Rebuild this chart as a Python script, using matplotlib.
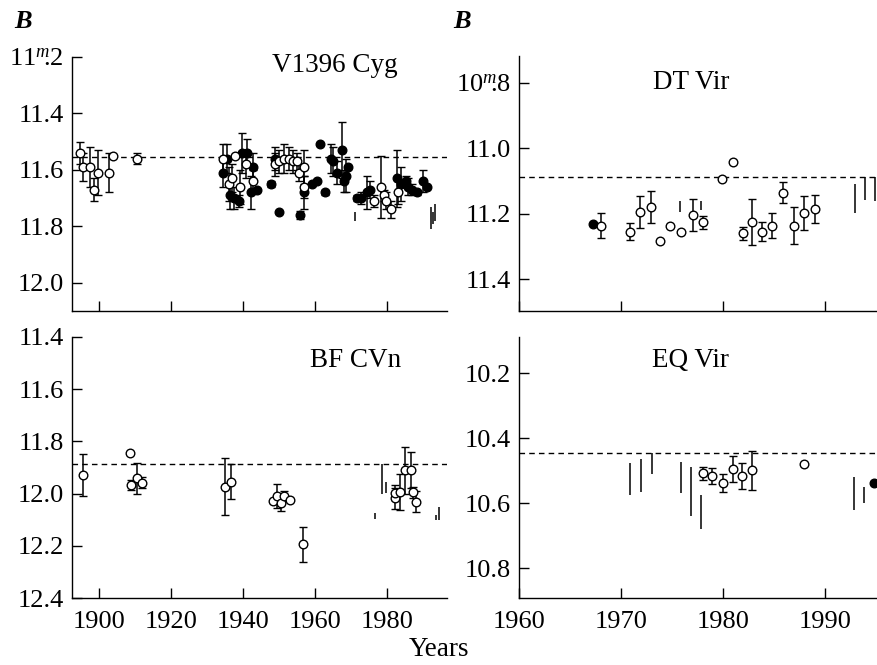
import numpy as np
import matplotlib
matplotlib.use("Agg")
import matplotlib.pyplot as plt

plt.rcParams["font.family"] = ["Liberation Serif", "DejaVu Serif"]
plt.rcParams["mathtext.fontset"] = "custom"
plt.rcParams["mathtext.rm"] = "Liberation Serif"
plt.rcParams["mathtext.it"] = "Liberation Serif:italic"

# ---- V1396 Cyg ----
cyg_open_year = [1894.7, 1895.5, 1897.5, 1898.7, 1899.7, 1902.9, 1903.8, 1910.6,
                 1934.4, 1936.0, 1936.9, 1937.7, 1939.2, 1940.9, 1942.7,
                 1948.9, 1949.9, 1951.3, 1952.9, 1953.9, 1954.9, 1955.5, 1957.0, 1957.1,
                 1976.5, 1978.3, 1979.3, 1979.8, 1981.1, 1983.1]
cyg_open_mag = [11.54, 11.59, 11.59, 11.67, 11.61, 11.61, 11.55, 11.56,
                11.56, 11.65, 11.63, 11.55, 11.66, 11.58, 11.64,
                11.58, 11.57, 11.56, 11.56, 11.57, 11.57, 11.61, 11.59, 11.66,
                11.71, 11.66, 11.69, 11.71, 11.74, 11.68]
cyg_open_err = [0.04, 0.05, 0.07, 0.04, 0.08, 0.07, 0.0, 0.02,
                0.05, 0.06, 0.05, 0.0, 0.06, 0.05, 0.04,
                0.04, 0.04, 0.05, 0.04, 0.04, 0.03, 0.03, 0.06, 0.04,
                0.02, 0.11, 0.02, 0.03, 0.03, 0.04]
cyg_fill_year = [1934.5, 1935.6, 1936.3, 1937.5, 1938.8, 1939.6, 1941.1, 1942.8, 1942.1, 1944.0,
                 1947.9, 1948.9, 1950.1, 1955.9, 1957.1, 1959.1, 1960.5, 1961.3, 1962.9,
                 1964.6, 1965.1, 1966.1, 1967.4, 1968.0, 1968.6, 1969.2,
                 1971.7, 1972.8, 1974.6, 1975.4, 1982.8, 1983.9, 1985.3, 1985.9, 1986.9,
                 1988.5, 1990.0, 1991.1]
cyg_fill_mag = [11.61, 11.56, 11.69, 11.70, 11.71, 11.54, 11.54, 11.59, 11.68, 11.67,
                11.65, 11.56, 11.75, 11.76, 11.68, 11.65, 11.64, 11.51, 11.68,
                11.56, 11.57, 11.61, 11.53, 11.64, 11.62, 11.59,
                11.70, 11.70, 11.68, 11.67, 11.63, 11.65, 11.64, 11.66, 11.67,
                11.68, 11.64, 11.66]
cyg_fill_err = [0.05, 0.05, 0.05, 0.04, 0.02, 0.07, 0.05, 0.05, 0.06, 0.0,
                0.01, 0.04, 0.0, 0.015, 0.06, 0.0, 0.0, 0.0, 0.01,
                0.05, 0.05, 0.04, 0.10, 0.04, 0.06, 0.0,
                0.01, 0.02, 0.06, 0.03, 0.10, 0.06, 0.02, 0.03, 0.02,
                0.01, 0.04, 0.0]
cyg_bar_year = [1971.0, 1992.2, 1992.7, 1993.3]
cyg_bar_lo = [11.75, 11.73, 11.75, 11.72]
cyg_bar_hi = [11.78, 11.81, 11.79, 11.78]
cyg_mean = 11.553

# ---- BF CVn ----
cvn_year = [1895.6, 1908.5, 1909.0, 1910.5, 1912.0, 1934.9, 1936.7,
            1948.3, 1949.4, 1950.7, 1951.5, 1953.2, 1956.7,
            1982.2, 1982.3, 1983.7, 1985.1, 1986.7, 1987.3, 1988.2]
cvn_mag = [11.93, 11.846, 11.967, 11.941, 11.958, 11.973, 11.954,
           12.027, 12.009, 12.035, 12.009, 12.024, 12.194,
           12.018, 11.996, 11.993, 11.91, 11.91, 11.995, 12.031]
cvn_err = [0.08, 0.0, 0.02, 0.06, 0.02, 0.11, 0.067,
           0.0, 0.045, 0.03, 0.02, 0.0, 0.067,
           0.04, 0.03, 0.07, 0.09, 0.07, 0.02, 0.04]
cvn_bar_year = [1976.7, 1978.6, 1979.7, 1993.7, 1994.4]
cvn_bar_lo = [12.073, 11.887, 11.954, 12.08, 12.05]
cvn_bar_hi = [12.098, 12.002, 11.999, 12.10, 12.10]
cvn_mean = 11.887

# ---- DT Vir ----
dt_open_year = [1968.0, 1970.9, 1971.9, 1972.9, 1973.8, 1974.85, 1975.9, 1977.06, 1978.0,
                1979.9, 1980.95, 1981.94, 1982.87, 1983.8, 1984.8, 1985.9, 1987.0,
                1987.9, 1989.0]
dt_open_mag = [11.236, 11.254, 11.194, 11.178, 11.283, 11.236, 11.256, 11.204, 11.226,
               11.093, 11.042, 11.259, 11.224, 11.254, 11.236, 11.135, 11.236,
               11.198, 11.186]
dt_open_err = [0.039, 0.025, 0.05, 0.049, 0.0, 0.0, 0.0, 0.048, 0.02,
               0.0, 0.0, 0.02, 0.07, 0.03, 0.039, 0.031, 0.057,
               0.052, 0.043]
dt_fill_year = [1967.26]
dt_fill_mag = [11.231]
dt_bar_year = [1975.8, 1977.85, 1992.9, 1993.9, 1994.9]
dt_bar_lo = [11.16, 11.16, 11.11, 11.086, 11.086]
dt_bar_hi = [11.193, 11.188, 11.198, 11.157, 11.16]
dt_mean = 11.086

# ---- EQ Vir ----
eq_open_year = [1978.0, 1978.9, 1980.0, 1981.0, 1981.9, 1982.8, 1987.9]
eq_open_mag = [10.508, 10.515, 10.538, 10.494, 10.515, 10.498, 10.48]
eq_open_err = [0.02, 0.025, 0.027, 0.04, 0.04, 0.06, 0.0]
eq_fill_year = [1994.8]
eq_fill_mag = [10.537]
eq_bar_year = [1970.9, 1971.95, 1973.0, 1975.9, 1976.9, 1977.8, 1992.8, 1993.8]
eq_bar_lo = [10.477, 10.465, 10.446, 10.472, 10.487, 10.574, 10.518, 10.549]
eq_bar_hi = [10.574, 10.564, 10.511, 10.567, 10.638, 10.679, 10.621, 10.60]
eq_mean = 10.446

FS = 19
TS = 19.5
MS = 6.2
EW = 1.0
LW = 1.1


def style_axes(ax):
    for s in ["top", "right"]:
        ax.spines[s].set_visible(False)
    for s in ["left", "bottom"]:
        ax.spines[s].set_linewidth(1.0)
    ax.tick_params(direction="in", length=7, width=1.0, labelsize=FS, pad=6)


def draw_open(ax, x, y, e):
    ax.errorbar(x, y, yerr=e, fmt="o", ms=MS, mfc="white", mec="black", mew=EW,
                ecolor="black", elinewidth=LW, capsize=3.0, capthick=LW, zorder=3)


def draw_fill(ax, x, y, e=None):
    ax.errorbar(x, y, yerr=e, fmt="o", ms=MS, mfc="black", mec="black", mew=EW,
                ecolor="black", elinewidth=LW, capsize=3.0, capthick=LW, zorder=3)


fig = plt.figure(figsize=(8.77, 6.65), dpi=100)

# top-left: V1396 Cyg
ax1 = fig.add_axes([0.0821, 0.5323, 0.4276, 0.3820])
style_axes(ax1)
ax1.axhline(cyg_mean, color="black", lw=1.0, ls=(0, (4, 3)), zorder=1)
draw_fill(ax1, cyg_fill_year, cyg_fill_mag, cyg_fill_err)
draw_open(ax1, cyg_open_year, cyg_open_mag, cyg_open_err)
ax1.vlines(cyg_bar_year, cyg_bar_lo, cyg_bar_hi, color="black", lw=LW)
ax1.set_xlim(1892.5, 1996.7)
ax1.set_ylim(12.1, 11.2)
ax1.set_xticks([1900, 1920, 1940, 1960, 1980])
ax1.set_xticklabels([])
ax1.set_yticks([11.2, 11.4, 11.6, 11.8, 12.0])
ax1.set_yticklabels([r"11$^{m}\!\!$.2", "11.4", "11.6", "11.8", "12.0"])
ax1.text(0.70, 0.965, "V1396 Cyg", transform=ax1.transAxes, ha="center", va="center",
         fontsize=TS)

# bottom-left: BF CVn
ax2 = fig.add_axes([0.0821, 0.1003, 0.4276, 0.3934])
style_axes(ax2)
ax2.axhline(cvn_mean, color="black", lw=1.0, ls=(0, (4, 3)), zorder=1)
draw_open(ax2, cvn_year, cvn_mag, cvn_err)
ax2.vlines(cvn_bar_year, cvn_bar_lo, cvn_bar_hi, color="black", lw=LW)
ax2.set_xlim(1892.5, 1996.7)
ax2.set_ylim(12.4, 11.4)
ax2.set_xticks([1900, 1920, 1940, 1960, 1980])
ax2.set_yticks([11.4, 11.6, 11.8, 12.0, 12.2, 12.4])
ax2.set_yticklabels(["11.4", "11.6", "11.8", "12.0", "12.2", "12.4"])
ax2.tick_params(axis="x", pad=9)
ax2.text(0.755, 0.91, "BF CVn", transform=ax2.transAxes, ha="center", va="center",
         fontsize=TS)

# top-right: DT Vir
ax3 = fig.add_axes([0.5918, 0.5323, 0.4082, 0.3835])
style_axes(ax3)
ax3.axhline(dt_mean, color="black", lw=1.0, ls=(0, (4, 3)), zorder=1)
draw_fill(ax3, dt_fill_year, dt_fill_mag)
draw_open(ax3, dt_open_year, dt_open_mag, dt_open_err)
ax3.vlines(dt_bar_year, dt_bar_lo, dt_bar_hi, color="black", lw=LW)
ax3.set_xlim(1960, 1995.1)
ax3.set_ylim(11.497, 10.7175)
ax3.set_xticks([1960, 1970, 1980, 1990])
ax3.set_xticklabels([])
ax3.set_yticks([10.8, 11.0, 11.2, 11.4])
ax3.set_yticklabels([r"10$^{m}\!\!$.8", "11.0", "11.2", "11.4"])
ax3.text(0.48, 0.895, "DT Vir", transform=ax3.transAxes, ha="center", va="center",
         fontsize=TS)

# bottom-right: EQ Vir
ax4 = fig.add_axes([0.5918, 0.1003, 0.4082, 0.3934])
style_axes(ax4)
ax4.axhline(eq_mean, color="black", lw=1.0, ls=(0, (4, 3)), zorder=1)
draw_fill(ax4, eq_fill_year, eq_fill_mag)
draw_open(ax4, eq_open_year, eq_open_mag, eq_open_err)
ax4.vlines(eq_bar_year, eq_bar_lo, eq_bar_hi, color="black", lw=LW)
ax4.set_xlim(1960, 1995.1)
ax4.set_ylim(10.892, 10.0874)
ax4.set_xticks([1960, 1970, 1980, 1990])
ax4.set_yticks([10.2, 10.4, 10.6, 10.8])
ax4.set_yticklabels(["10.2", "10.4", "10.6", "10.8"])
ax4.tick_params(axis="x", pad=9)
ax4.text(0.48, 0.91, "EQ Vir", transform=ax4.transAxes, ha="center", va="center",
         fontsize=TS)

fig.text(0.026, 0.967, "B", fontsize=19, fontstyle="italic", fontweight="bold",
         ha="center", va="center")
fig.text(0.527, 0.967, "B", fontsize=19, fontstyle="italic", fontweight="bold",
         ha="center", va="center")
fig.text(0.5, 0.024, "Years", fontsize=TS, ha="center", va="center")

fig.savefig("out.png", dpi=100)
